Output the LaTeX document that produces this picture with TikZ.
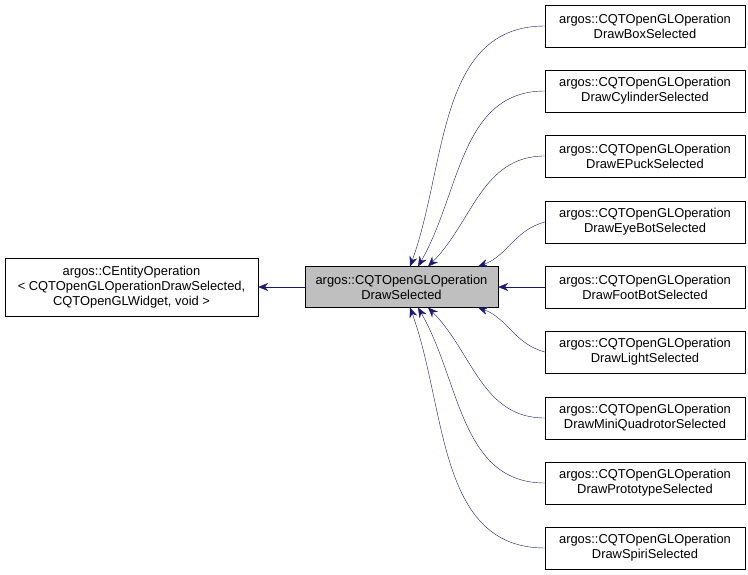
\documentclass[tikz,border=0pt]{standalone}
\usepackage{fontspec}
\setmainfont{Liberation Sans}
\usetikzlibrary{arrows.meta}
\definecolor{edgeblue}{HTML}{191970}

\begin{document}
\begin{tikzpicture}[x=1pt,y=-1pt,
	cls/.style={draw=black,fill=white,minimum width=200pt,minimum height=42pt,align=center,inner sep=0pt,font=\fontsize{12.9}{15}\selectfont},
	inh/.style={-{Stealth[length=10pt,width=8pt]},edgeblue,thin}]
	\useasboundingbox (0,0) rectangle (748,575);

	\node[cls,fill={rgb,255:red,191;green,191;blue,191},minimum width=193pt,minimum height=41pt] (sel) at (401.5,287) {argos::CQTOpenGLOperation\\DrawSelected};
	\node[cls,minimum width=253pt,minimum height=58pt] (base) at (131.5,287) {argos::CEntityOperation\\< CQTOpenGLOperationDrawSelected,\\CQTOpenGLWidget, void >};

	\node[cls] (box)  at (645,26)  {argos::CQTOpenGLOperation\\DrawBoxSelected};
	\node[cls] (cyl)  at (645,91)  {argos::CQTOpenGLOperation\\DrawCylinderSelected};
	\node[cls] (epk)  at (645,156) {argos::CQTOpenGLOperation\\DrawEPuckSelected};
	\node[cls] (eye)  at (645,222) {argos::CQTOpenGLOperation\\DrawEyeBotSelected};
	\node[cls] (foot) at (645,287) {argos::CQTOpenGLOperation\\DrawFootBotSelected};
	\node[cls] (lgt)  at (645,352) {argos::CQTOpenGLOperation\\DrawLightSelected};
	\node[cls] (mini) at (645,418) {argos::CQTOpenGLOperation\\DrawMiniQuadrotorSelected};
	\node[cls] (prot) at (645,483) {argos::CQTOpenGLOperation\\DrawPrototypeSelected};
	\node[cls] (spi)  at (645,548) {argos::CQTOpenGLOperation\\DrawSpiriSelected};

	\coordinate (t1) at (410,266.5);
	\coordinate (t2) at (418,266.5);
	\coordinate (t3) at (428,266.5);
	\coordinate (t4) at (478,266.5);
	\coordinate (b4) at (478,307.5);
	\coordinate (b3) at (428,307.5);
	\coordinate (b2) at (418,307.5);
	\coordinate (b1) at (410,307.5);

	\draw[inh] (sel.west) -- (base.east);
	\draw[inh] (box.west) to[out=180,in=70] (t1);
	\draw[inh] (cyl.west) to[out=180,in=60] (t2);
	\draw[inh] (epk.west) to[out=180,in=45] (t3);
	\draw[inh] (eye.west) to[out=195,in=20] (t4);
	\draw[inh] (foot.west) -- (sel.east);
	\draw[inh] (lgt.west) to[out=165,in=-20] (b4);
	\draw[inh] (mini.west) to[out=180,in=-45] (b3);
	\draw[inh] (prot.west) to[out=180,in=-60] (b2);
	\draw[inh] (spi.west) to[out=180,in=-70] (b1);

\end{tikzpicture}
\end{document}
